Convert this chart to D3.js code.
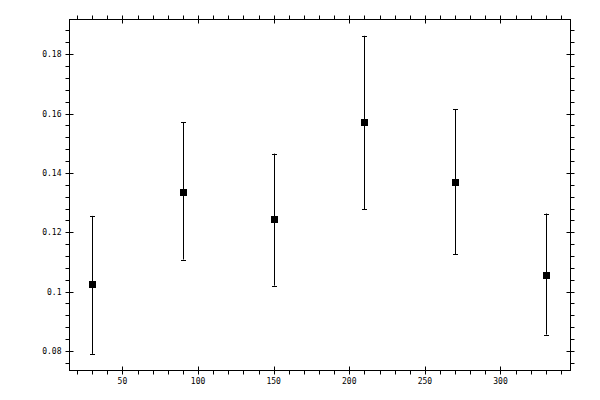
<!DOCTYPE html>
<html>
<head>
<meta charset="utf-8">
<script src="https://cdn.jsdelivr.net/npm/d3@7"></script>
<style>
  body { margin: 0; background: #fff; }
  svg text { font-family: "DejaVu Sans Mono", monospace; font-size: 8px; fill: #000; }
</style>
</head>
<body>
<svg id="chart" width="600" height="400"></svg>
<script>
// valores
const xs = [30, 90, 150, 210, 270, 330];
const ys = [0.1024, 0.1337, 0.1243, 0.1570, 0.1371, 0.1057];
const yLow = [0.0790, 0.1108, 0.1020, 0.1277, 0.1125, 0.0855];
const yHigh = [0.1255, 0.1570, 0.1465, 0.1862, 0.1614, 0.1263];
const xTicks = [50, 100, 150, 200, 250, 300];
const yTicks = [0.08, 0.1, 0.12, 0.14, 0.16, 0.18];

const svg = d3.select("#chart");
const mLeft = 69.5, mRight = 570.5, mTop = 19.5, mBottom = 370.5;

const x = d3.scaleLinear().domain([15, 346.3]).range([mLeft, mRight]);
const y = d3.scaleLinear().domain([0.0734, 0.1917]).range([mBottom, mTop]);

const data = xs.map((v, i) => ({ x: v, y: ys[i], lo: yLow[i], hi: yHigh[i] }));

// ticks menores
const xMinor = d3.range(20, 346, 10).filter(v => v % 50 !== 0);
const yMinor = d3.range(0.076, 0.1917, 0.004).filter(v => Math.abs(v / 0.02 - Math.round(v / 0.02)) > 1e-6);

const px = v => Math.round(v) + 0.5;

// ticks que cruzam o eixo (maiores)
function crossTicks(scale, major, isX, pos) {
  svg.append("g").selectAll("line").data(major).join("line")
    .attr("x1", d => isX ? px(scale(d)) : pos - 4)
    .attr("x2", d => isX ? px(scale(d)) : pos + 4)
    .attr("y1", d => isX ? pos - 4 : px(scale(d)))
    .attr("y2", d => isX ? pos + 4 : px(scale(d)))
    .attr("stroke", "#000");
}

function minorTicks(scale, minor, isX, pos, dir) {
  svg.append("g").selectAll("line").data(minor).join("line")
    .attr("x1", d => isX ? px(scale(d)) : pos)
    .attr("x2", d => isX ? px(scale(d)) : pos + dir * 4)
    .attr("y1", d => isX ? pos : px(scale(d)))
    .attr("y2", d => isX ? pos + dir * 4 : px(scale(d)))
    .attr("stroke", "#000");
}

minorTicks(x, xMinor, true, mBottom, 1);
minorTicks(x, xMinor, true, mTop, -1);
minorTicks(y, yMinor, false, mLeft, -1);
minorTicks(y, yMinor, false, mRight, 1);
crossTicks(x, xTicks, true, mBottom);
crossTicks(x, xTicks, true, mTop);
crossTicks(y, yTicks, false, mLeft);
crossTicks(y, yTicks, false, mRight);

// moldura
svg.append("rect")
  .attr("x", mLeft).attr("y", mTop)
  .attr("width", mRight - mLeft).attr("height", mBottom - mTop)
  .attr("fill", "none").attr("stroke", "#000");

// rótulos
svg.append("g").selectAll("text").data(xTicks).join("text")
  .attr("x", d => x(d))
  .attr("y", 384)
  .attr("text-anchor", "middle")
  .text(d => d);

svg.append("g").selectAll("text").data(yTicks).join("text")
  .attr("x", 61.5)
  .attr("y", d => y(d) + 3)
  .attr("text-anchor", "end")
  .text(d => +d.toFixed(2));

// barras de erro
const bars = svg.append("g").selectAll("g").data(data).join("g")
  .attr("stroke", "#000");

bars.append("line")
  .attr("x1", d => px(x(d.x)))
  .attr("x2", d => px(x(d.x)))
  .attr("y1", d => y(d.lo))
  .attr("y2", d => y(d.hi));

bars.append("line")
  .attr("x1", d => Math.round(x(d.x)) - 2)
  .attr("x2", d => Math.round(x(d.x)) + 3)
  .attr("y1", d => px(y(d.lo)))
  .attr("y2", d => px(y(d.lo)));

bars.append("line")
  .attr("x1", d => Math.round(x(d.x)) - 2)
  .attr("x2", d => Math.round(x(d.x)) + 3)
  .attr("y1", d => px(y(d.hi)))
  .attr("y2", d => px(y(d.hi)));

// marcadores quadrados
svg.append("g").selectAll("rect").data(data).join("rect")
  .attr("x", d => Math.round(x(d.x)) - 3)
  .attr("y", d => Math.round(y(d.y)) - 3)
  .attr("width", 7)
  .attr("height", 7)
  .attr("fill", "#000");
</script>
</body>
</html>
